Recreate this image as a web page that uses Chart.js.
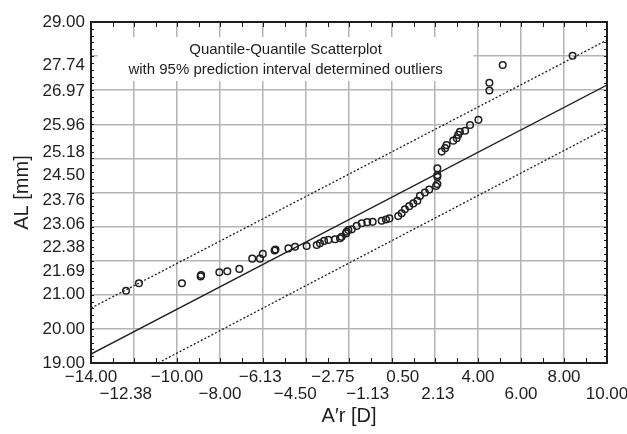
<!DOCTYPE html>
<html>
<head>
<meta charset="utf-8">
<script src="https://cdn.jsdelivr.net/npm/chart.js@4/dist/chart.umd.min.js"></script>
<style>
  body { margin: 0; background: #fff; }
  canvas { display: block; }
</style>
</head>
<body>
<canvas id="qqPlot" width="627" height="434"></canvas>
<script>
// observed quantiles: A'r [D] vs AL [mm]
const qqX = [-12.37, -11.77, -9.77, -8.90, -8.88, -8.03, -7.66, -7.10, -6.50, -6.14, -6.01,
  -5.46, -5.42, -4.82, -4.51, -3.97, -3.50, -3.35, -3.16, -2.96, -2.65, -2.42, -2.34, -2.14,
  -2.11, -2.03, -1.87, -1.64, -1.41, -1.15, -0.90, -0.48, -0.28, -0.12, 0.29, 0.45, 0.60,
  0.80, 0.99, 1.18, 1.30, 1.53, 1.73, 2.05, 2.11, 2.11, 2.11, 2.11, 2.31, 2.47, 2.54, 2.85,
  3.01, 3.08, 3.16, 3.40, 3.63, 4.02, 4.53, 4.53, 5.15, 8.40];
const qqY = [21.12, 21.34, 21.34, 21.54, 21.58, 21.66, 21.69, 21.76, 22.06, 22.06, 22.20,
  22.30, 22.33, 22.36, 22.41, 22.43, 22.46, 22.51, 22.58, 22.61, 22.63, 22.66, 22.70, 22.80,
  22.85, 22.90, 22.92, 23.02, 23.10, 23.13, 23.14, 23.17, 23.21, 23.24, 23.31, 23.39, 23.51,
  23.60, 23.68, 23.76, 23.90, 24.00, 24.09, 24.19, 24.25, 24.46, 24.51, 24.71, 25.20, 25.30,
  25.39, 25.52, 25.59, 25.69, 25.78, 25.81, 25.98, 26.13, 26.99, 27.22, 27.74, 28.01];

// reference line and 95% prediction limits (end points)
const lineX = [-14, 10];
const fitY = [19.26, 27.15];
const upperY = [20.61, 28.47];
const lowerY = [17.97, 25.89];

const xTickValues = [-14.00, -12.38, -10.00, -8.00, -6.13, -4.50, -2.75, -1.13, 0.50, 2.13, 4.00, 6.00, 8.00, 10.00];
const yTickValues = [19.00, 20.00, 21.00, 21.69, 22.38, 23.06, 23.76, 24.50, 25.18, 25.96, 26.97, 27.74, 29.00];
const xGridValues = [-12, -10, -8, -6, -4, -2, 0, 2, 4, 6, 8];
const yGridValues = [20, 21, 22, 23, 24, 25, 26, 27, 28];

const boxLines = ['Quantile-Quantile Scatterplot', 'with 95% prediction interval determined outliers'];

const FONT = "'Liberation Sans', Arial, sans-serif";
const GRID = '#b4b4b4';
const INK = '#1e1e1e';

function fmt(v) {
  return v.toFixed(2).replace('-', '\u2212');
}
function findIn(list, v) {
  return list.findIndex(t => Math.abs(t - v) < 1e-6);
}
function pairs(xs, ys) {
  return xs.map((x, i) => ({x: x, y: ys[i]}));
}
function mergeTicks(a, b) {
  const all = a.slice();
  b.forEach(v => { if (findIn(all, v) < 0) all.push(v); });
  return all.sort((p, q) => p - q).map(v => ({value: v}));
}

const framePlugin = {
  id: 'frame',
  beforeDatasetsDraw(chart) {
    const ctx = chart.ctx;
    const xs = chart.scales.x, ys = chart.scales.y;
    // white legend box over the grid
    const left = xs.getPixelForValue(-13.7), right = xs.getPixelForValue(3.8);
    const top = ys.getPixelForValue(28.56), bottom = ys.getPixelForValue(27.27);
    ctx.save();
    ctx.fillStyle = '#fff';
    ctx.fillRect(left, top, right - left, bottom - top);
    ctx.fillStyle = INK;
    ctx.font = '15px ' + FONT;
    ctx.textAlign = 'center';
    ctx.textBaseline = 'middle';
    const cx = (left + right) / 2, cy = (top + bottom) / 2;
    ctx.fillText(boxLines[0], cx, cy - 9);
    ctx.fillText(boxLines[1], cx, cy + 11);
    ctx.restore();
  },
  afterDraw(chart) {
    const ctx = chart.ctx;
    const a = chart.chartArea;
    const xs = chart.scales.x, ys = chart.scales.y;
    ctx.save();
    ctx.strokeStyle = INK;
    ctx.lineWidth = 1;
    ctx.beginPath();
    for (let k = -14; k <= 10; k++) {
      const px = Math.round(xs.getPixelForValue(k)) + 0.5;
      ctx.moveTo(px, a.top); ctx.lineTo(px, a.top + 5);
      ctx.moveTo(px, a.bottom); ctx.lineTo(px, a.bottom - 5);
    }
    for (let k = 0; k <= 50; k++) {
      const py = Math.round(ys.getPixelForValue(19 + k * 0.2)) + 0.5;
      ctx.moveTo(a.left, py); ctx.lineTo(a.left + 3, py);
      ctx.moveTo(a.right, py); ctx.lineTo(a.right - 3, py);
    }
    ctx.stroke();
    ctx.lineWidth = 2;
    ctx.strokeRect(a.left, a.top, a.right - a.left, a.bottom - a.top);
    ctx.restore();
  }
};

const qtx = document.getElementById('qqPlot').getContext('2d');

const qqPlot = new Chart(qtx, {
  type: 'scatter',
  data: {
    datasets: [{
      data: pairs(qqX, qqY),
      pointStyle: 'circle',
      pointRadius: 3.3,
      pointBorderWidth: 1.5,
      borderColor: INK,
      backgroundColor: 'rgba(0,0,0,0)',
      pointHoverRadius: 3.3,
    }, {
      data: pairs(lineX, fitY),
      showLine: true,
      pointRadius: 0,
      borderColor: INK,
      borderWidth: 1.4,
    }, {
      data: pairs(lineX, upperY),
      showLine: true,
      pointRadius: 0,
      borderColor: INK,
      borderWidth: 1.3,
      borderDash: [2, 2],
    }, {
      data: pairs(lineX, lowerY),
      showLine: true,
      pointRadius: 0,
      borderColor: INK,
      borderWidth: 1.3,
      borderDash: [2, 2],
    }]
  },
  options: {
    responsive: false,
    animation: false,
    layout: {
      padding: { top: 22, right: 20, bottom: 0, left: 0 },
    },
    plugins: {
      legend: { display: false },
      tooltip: { enabled: false },
    },
    scales: {
      x: {
        type: 'linear',
        min: -14,
        max: 10,
        afterBuildTicks: scale => { scale.ticks = mergeTicks(xTickValues, xGridValues); },
        afterFit: scale => {
          scale.height = 71;
          scale.paddingLeft = 0;
          scale.paddingRight = 0;
        },
        ticks: {
          autoSkip: false,
          maxRotation: 0,
          padding: 6,
          color: INK,
          font: { family: FONT, size: 17, lineHeight: 1.0 },
          callback: value => {
            const i = findIn(xTickValues, value);
            if (i < 0) return '';
            return i % 2 === 0 ? [fmt(value), ''] : ['', fmt(value)];
          }
        },
        grid: {
          drawTicks: false,
          color: c => findIn(xGridValues, c.tick.value) >= 0 ? GRID : 'rgba(0,0,0,0)',
          lineWidth: c => findIn(xGridValues, c.tick.value) >= 0 ? 1.5 : 0,
        },
        border: { display: false },
        title: {
          display: true,
          text: 'A\u2032r [D]',
          color: INK,
          font: { family: FONT, size: 20 },
          padding: { top: 0, bottom: 6 },
        }
      },
      y: {
        type: 'linear',
        min: 19,
        max: 29,
        afterBuildTicks: scale => { scale.ticks = mergeTicks(yTickValues, yGridValues); },
        afterFit: scale => {
          scale.width = 91;
          scale.paddingTop = 0;
          scale.paddingBottom = 0;
        },
        ticks: {
          autoSkip: false,
          padding: 6,
          color: INK,
          font: { family: FONT, size: 17 },
          callback: value => findIn(yTickValues, value) >= 0 ? fmt(value) : '',
        },
        grid: {
          drawTicks: false,
          color: c => findIn(yGridValues, c.tick.value) >= 0 ? GRID : 'rgba(0,0,0,0)',
          lineWidth: c => findIn(yGridValues, c.tick.value) >= 0 ? 1.5 : 0,
        },
        border: { display: false },
        title: {
          display: true,
          text: 'AL [mm]',
          color: INK,
          font: { family: FONT, size: 20 },
          padding: { top: 10, bottom: 0 },
        }
      }
    }
  },
  plugins: [framePlugin]
});
</script>
</body>
</html>
